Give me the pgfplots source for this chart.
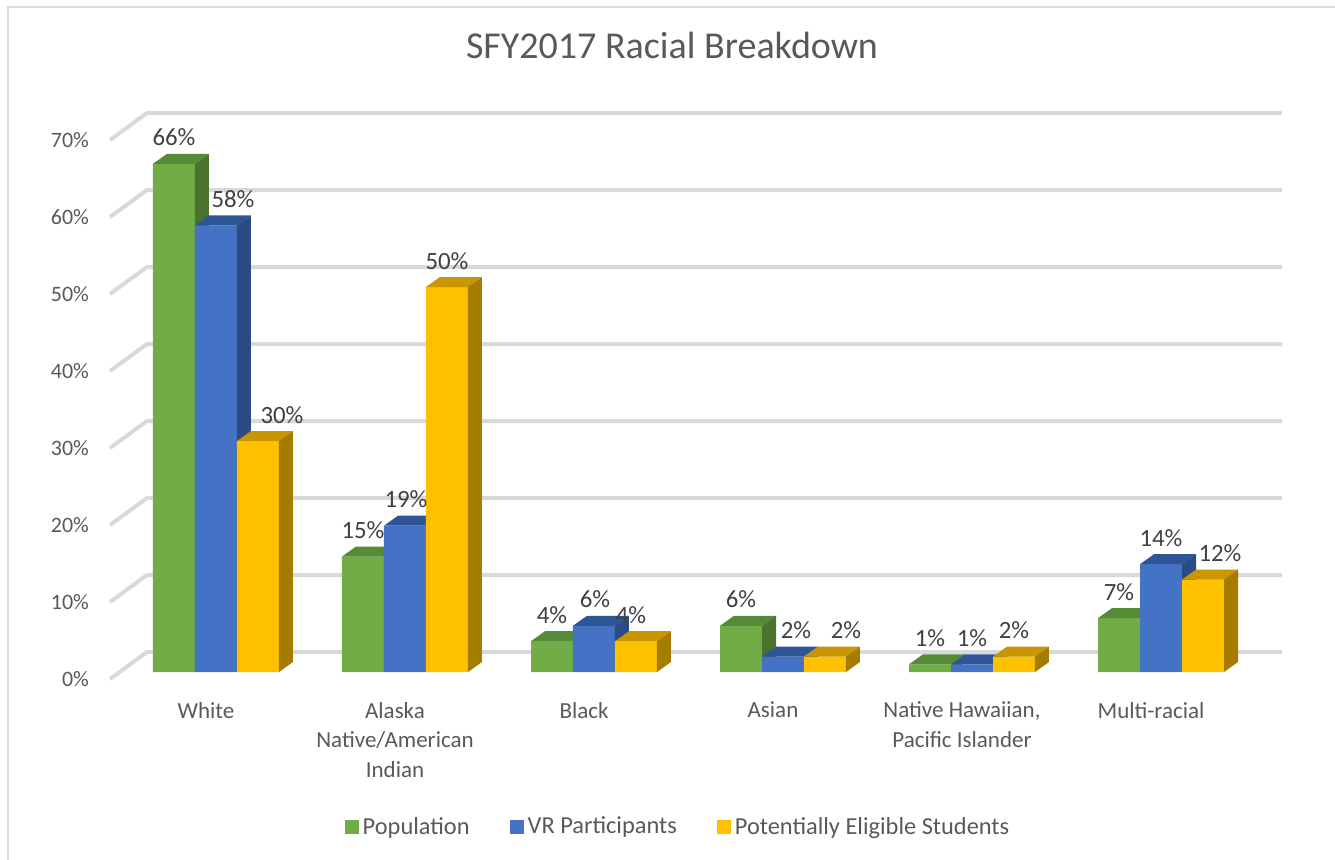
\documentclass[border=0pt]{standalone}
\usepackage{fontspec}
\setmainfont{Carlito}
\usepackage{pgfplots}
\usepackage{pgfplotstable}
\pgfplotsset{compat=1.18}

\definecolor{gfront}{HTML}{70AD47}
\definecolor{gtop}{HTML}{568A36}
\definecolor{gside}{HTML}{4A742D}
\definecolor{bfront}{HTML}{4472C4}
\definecolor{btop}{HTML}{2F5597}
\definecolor{bside}{HTML}{2A4B85}
\definecolor{yfront}{HTML}{FFC000}
\definecolor{ytop}{HTML}{C79600}
\definecolor{yside}{HTML}{A67C00}
\definecolor{txt}{HTML}{595959}
\definecolor{lab}{HTML}{404040}
\definecolor{gridc}{HTML}{D9D9D9}

\newdimen\barh
\pgfdeclareplotmark{top3d}{%
  \pgfpathmoveto{\pgfqpoint{-10.5pt}{0pt}}%
  \pgfpathlineto{\pgfqpoint{10.5pt}{0pt}}%
  \pgfpathlineto{\pgfqpoint{17.5pt}{5pt}}%
  \pgfpathlineto{\pgfqpoint{-3.5pt}{5pt}}%
  \pgfpathclose
  \pgfusepathqfill}
\pgfdeclareplotmark{side3d}{%
  \pgfmathsetlength\barh{\barv*3.85pt}%
  \pgfpathmoveto{\pgfqpoint{10.5pt}{0pt}}%
  \pgfpathlineto{\pgfqpoint{17.5pt}{5pt}}%
  \pgfpathlineto{\pgfqpoint{17.5pt}{\dimexpr5pt-\barh\relax}}%
  \pgfpathlineto{\pgfqpoint{10.5pt}{-\barh}}%
  \pgfpathclose
  \pgfusepathqfill}

% k = category index, v = value (%), s = label shift (pt)
\pgfplotstableread{
k v s
0 66 0
1 15 0
2 4 0
3 6 0
4 1 0
5 7 0
}\pop
\pgfplotstableread{
k v s
0 58 8.5
1 19 0.5
2 6 0.5
3 2 6.5
4 1 0
5 14 0
}\vr
\pgfplotstableread{
k v s
0 30 12
1 50 0
2 4 -2.5
3 2 10.5
4 2 0
5 12 8.5
}\pes

\begin{document}
\begin{tikzpicture}
\useasboundingbox (-55pt,-90pt) rectangle (612.5pt,339.5pt);
\draw[gridc, line width=1.2pt] (-51pt,-100pt) -- (-51pt,336pt) -- (620pt,336pt);
\node[anchor=base, font=\fontsize{19}{23}\selectfont, text=txt] at (281pt,310.5pt) {SFY2017 Racial Breakdown};
\begin{axis}[
  at={(0pt,0pt)}, anchor=south west,
  x=94.5pt, y=3.85pt,
  xmin=-0.5608, xmax=5.6402, ymin=-0.909, ymax=72.7,
  clip=false, clip marker paths=true,
  axis line style={draw=none},
  major tick length=0pt,
  xtick={0,1,2,3,4,5},
  xticklabels={White,{Alaska\\Native/American\\Indian},Black,Asian,{Native Hawaiian,\\Pacific Islander},Multi-racial},
  xticklabel style={font=\fontsize{11.5}{14.75}\selectfont, text=txt, align=center, yshift=-8pt, xshift=-5pt},
  ytick={0,10,20,30,40,50,60,70},
  yticklabels={0\%,10\%,20\%,30\%,40\%,50\%,60\%,70\%},
  yticklabel style={font=\fontsize{11}{13}\selectfont, text=txt, xshift=-7pt, yshift=-3.5pt},
  legend columns=3,
  legend style={at={(0.4855,-0.2612)}, anchor=center, draw=none, fill=none,
    font=\fontsize{12.2}{14}\selectfont, text=txt,
    /tikz/every even column/.append style={column sep=18pt}},
]
\pgfplotsinvokeforeach{0,10,20,30,40,50,60,70}{
  \draw[gridc, line width=2pt, line join=round] (axis cs:-0.5608,#1) ++(0pt,-3.5pt) -- ++(18.5pt,13.5pt) -- ++(567.5pt,0pt);
}
% Population
\addplot[ybar, bar width=0.2222, bar shift=0pt, fill=gfront, draw=none,
  legend image code/.code={\fill[gfront] (0pt,-3.5pt) rectangle (7pt,3.5pt);}]
  table[x expr=\thisrow{k}-0.2222, y=v]{\pop};
\addlegendentry{Population}
\addplot[scatter, only marks, mark=top3d, scatter/use mapped color={draw=none,fill=gtop}, forget plot]
  table[x expr=\thisrow{k}-0.2222, y=v]{\pop};
\addplot[scatter, only marks, mark=side3d, visualization depends on={\thisrow{v}\as\barv},
  scatter/use mapped color={draw=none,fill=gside}, forget plot]
  table[x expr=\thisrow{k}-0.2222, y=v]{\pop};
% VR
\addplot[ybar, bar width=0.2222, bar shift=0pt, fill=bfront, draw=none,
  legend image code/.code={\fill[bfront] (0pt,-3.5pt) rectangle (7pt,3.5pt);}]
  table[x expr=\thisrow{k}, y=v]{\vr};
\addlegendentry{VR Participants}
\addplot[scatter, only marks, mark=top3d, scatter/use mapped color={draw=none,fill=btop}, forget plot]
  table[x expr=\thisrow{k}, y=v]{\vr};
\addplot[scatter, only marks, mark=side3d, visualization depends on={\thisrow{v}\as\barv},
  scatter/use mapped color={draw=none,fill=bside}, forget plot]
  table[x expr=\thisrow{k}, y=v]{\vr};
% PES
\addplot[ybar, bar width=0.2222, bar shift=0pt, fill=yfront, draw=none,
  legend image code/.code={\fill[yfront] (0pt,-3.5pt) rectangle (7pt,3.5pt);}]
  table[x expr=\thisrow{k}+0.2222, y=v]{\pes};
\addlegendentry{Potentially Eligible Students}
\addplot[scatter, only marks, mark=top3d, scatter/use mapped color={draw=none,fill=ytop}, forget plot]
  table[x expr=\thisrow{k}+0.2222, y=v]{\pes};
\addplot[scatter, only marks, mark=side3d, visualization depends on={\thisrow{v}\as\barv},
  scatter/use mapped color={draw=none,fill=yside}, forget plot]
  table[x expr=\thisrow{k}+0.2222, y=v]{\pes};
% data labels
\pgfplotsset{labstyle/.style={draw=none, mark=none, forget plot,
  nodes near coords={\pgfplotspointmeta\%}, point meta=explicit symbolic,
  visualization depends on={\thisrow{s}\as\sh},
  every node near coord/.append style={anchor=base, xshift=\sh pt, yshift=9pt,
    font=\fontsize{12.4}{15}\selectfont, text=lab}}}
\addplot[labstyle] table[x expr=\thisrow{k}-0.2222, y=v, meta=v]{\pop};
\addplot[labstyle] table[x expr=\thisrow{k}, y=v, meta=v]{\vr};
\addplot[labstyle] table[x expr=\thisrow{k}+0.2222, y=v, meta=v]{\pes};
\end{axis}
\end{tikzpicture}
\end{document}
